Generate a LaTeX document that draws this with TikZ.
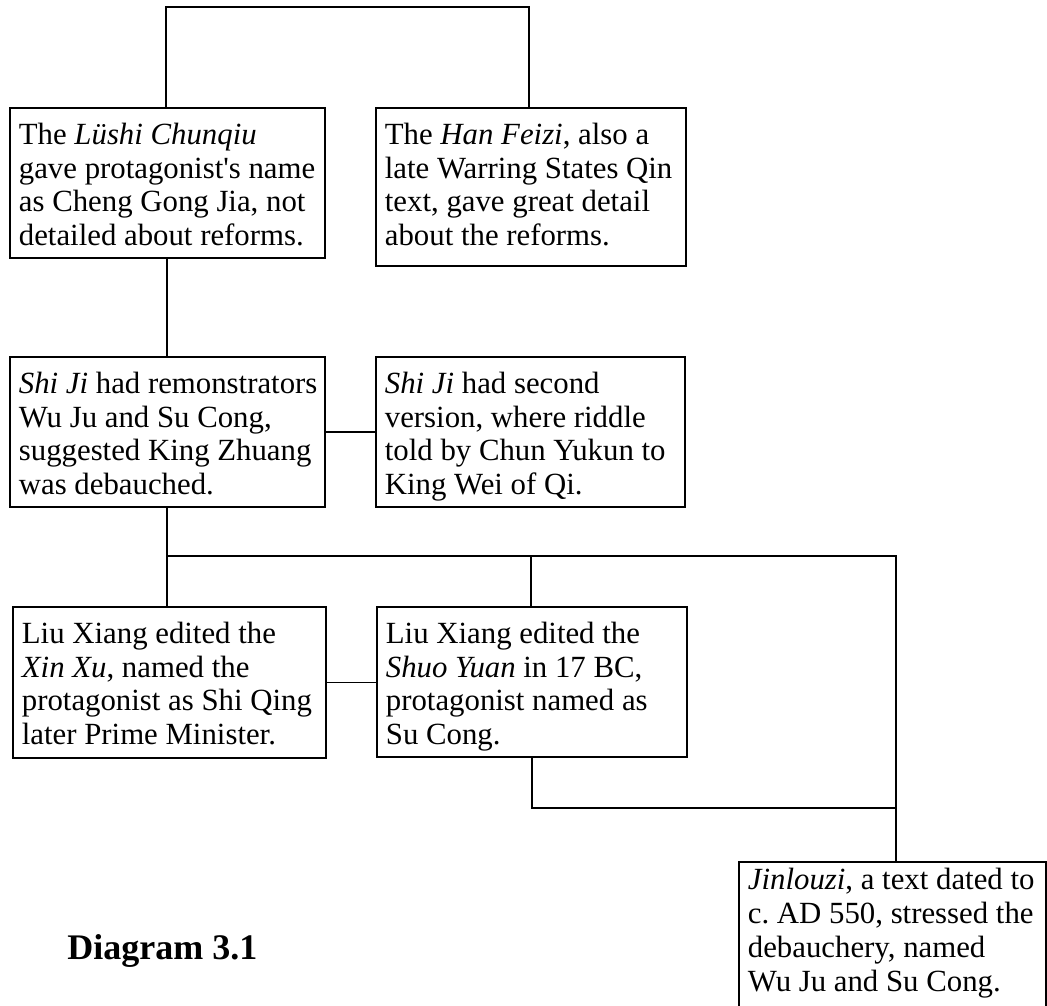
\documentclass[tikz,border=0pt]{standalone}
\usepackage{fontspec}
\setmainfont{Liberation Serif}
\newlength\px \setlength\px{0.5pt}
\newcommand\bt[4][18.2pt]{\parbox[t][#3\px][t]{#2\px}{\raggedright\leftskip=4.5pt\rule{0pt}{#1}#4}}
\begin{document}
\begin{tikzpicture}[x=0.5pt,y=-0.5pt,
  box/.style={draw, line width=0.9pt, inner sep=0pt, anchor=north west, font=\fontsize{15.4}{16.9}\selectfont},
  link/.style={line width=0.8pt}]
\useasboundingbox (0,0) rectangle (1047,1005);
\node[box] (A) at (9,107) {\bt{315}{150}{The \textit{Lüshi Chunqiu}\\gave protagonist\textquotesingle s name\\as Cheng Gong Jia, not\\detailed about reforms.}};
\node[box] (B) at (375,107) {\bt{310}{158}{The \textit{Han Feizi}, also a\\late Warring States Qin\\text, gave great detail\\about the reforms.}};
\node[box] (C) at (9,356) {\bt{315}{150}{\textit{Shi Ji} had remonstrators\\Wu Ju and Su Cong,\\suggested King Zhuang\\was debauched.}};
\node[box] (D) at (375,356) {\bt{309}{150}{\textit{Shi Ji} had second\\version, where riddle\\told by Chun Yukun to\\King Wei of Qi.}};
\node[box] (E) at (12,606) {\bt{313}{151}{Liu Xiang edited the\\\textit{Xin Xu}, named the\\protagonist as Shi Qing\\later Prime Minister.}};
\node[box] (F) at (376,606) {\bt{310}{150}{Liu Xiang edited the\\\textit{Shuo Yuan} in 17 BC,\\protagonist named as\\Su Cong.}};
\node[box] (G) at (738,861) {\bt[14pt]{307}{146}{\textit{Jinlouzi}, a text dated to\\c.\ AD 550, stressed the\\debauchery, named\\Wu Ju and Su Cong.}};
\node[anchor=base west, inner sep=0pt, font=\fontsize{18}{20}\selectfont\bfseries] (cap) at (67,959) {Diagram 3.1};
\coordinate (ta) at (166,7);
\coordinate (tb) at (529,7);
\coordinate (j1) at (167,556);
\coordinate (j2) at (531,556);
\coordinate (j3) at (896,556);
\coordinate (j4) at (532,808);
\coordinate (j5) at (896,808);
\draw[link] (A.north -| ta) -- (ta) -- (tb) -- (B.north -| tb);
\draw[link] (A.south -| j1) -- (C.north -| j1);
\draw[link] (C.east) -- (D.west);
\draw[link] (C.south -| j1) -- (E.north -| j1);
\draw[link] (j1) -- (j3) -- (G.north -| j3);
\draw[link] (j2) -- (F.north -| j2);
\draw[link] (F.south -| j4) -- (j4) -- (j5);
\draw[link] (E.east) -- (E.east -| F.west);
\end{tikzpicture}
\end{document}
